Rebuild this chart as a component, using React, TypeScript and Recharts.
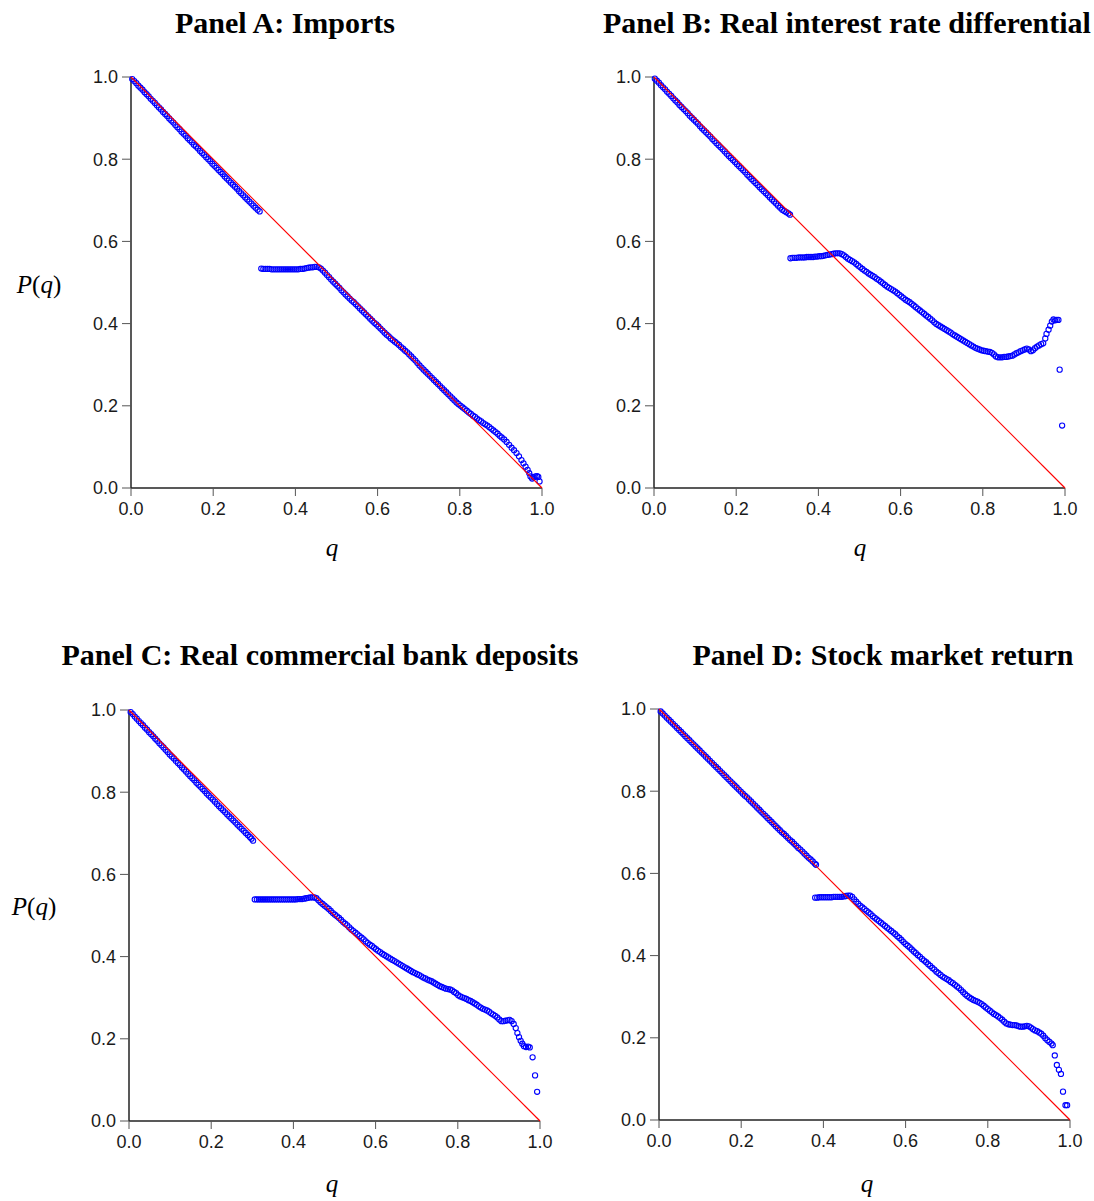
import React from "react";
import { ScatterChart, Scatter, XAxis, YAxis } from "recharts";

const axisTicks = [0, 0.2, 0.4, 0.6, 0.8, 1.0];
const diagonal = [{ q: 0, p: 1 }, { q: 1, p: 0 }];

// [q, P(q)]
const importsPoints: [number, number][] = [
  [0.003, 0.995], [0.008, 0.99], [0.013, 0.985], [0.018, 0.979], [0.023, 0.974], [0.028, 0.969], [0.033, 0.963], [0.038, 0.958],
  [0.043, 0.953], [0.048, 0.947], [0.053, 0.942], [0.058, 0.937], [0.063, 0.931], [0.068, 0.926], [0.073, 0.921], [0.078, 0.915],
  [0.083, 0.91], [0.088, 0.905], [0.093, 0.899], [0.098, 0.894], [0.103, 0.889], [0.108, 0.883], [0.113, 0.878], [0.118, 0.873],
  [0.123, 0.867], [0.128, 0.862], [0.133, 0.857], [0.138, 0.851], [0.143, 0.846], [0.148, 0.841], [0.153, 0.835], [0.158, 0.831],
  [0.163, 0.826], [0.168, 0.82], [0.173, 0.815], [0.178, 0.81], [0.183, 0.805], [0.188, 0.8], [0.193, 0.795], [0.198, 0.789],
  [0.203, 0.784], [0.208, 0.779], [0.213, 0.774], [0.218, 0.769], [0.223, 0.764], [0.228, 0.758], [0.233, 0.753], [0.238, 0.748],
  [0.243, 0.743], [0.248, 0.738], [0.253, 0.733], [0.258, 0.728], [0.263, 0.722], [0.268, 0.717], [0.273, 0.712], [0.278, 0.707],
  [0.283, 0.702], [0.288, 0.697], [0.293, 0.692], [0.298, 0.687], [0.303, 0.682], [0.308, 0.677], [0.313, 0.673],
  [0.317, 0.534], [0.322, 0.533], [0.327, 0.533], [0.332, 0.533], [0.337, 0.533], [0.342, 0.532], [0.347, 0.532], [0.352, 0.532],
  [0.357, 0.532], [0.362, 0.532], [0.367, 0.532], [0.372, 0.532], [0.377, 0.532], [0.382, 0.532], [0.387, 0.532], [0.392, 0.532],
  [0.397, 0.532], [0.402, 0.532], [0.407, 0.532], [0.412, 0.533], [0.417, 0.533], [0.422, 0.534], [0.427, 0.535], [0.432, 0.536],
  [0.437, 0.537], [0.442, 0.537], [0.447, 0.538], [0.452, 0.538], [0.457, 0.537], [0.462, 0.534], [0.467, 0.529], [0.472, 0.524],
  [0.477, 0.518], [0.482, 0.513], [0.487, 0.507], [0.492, 0.502], [0.497, 0.497], [0.502, 0.492], [0.507, 0.487], [0.512, 0.481],
  [0.517, 0.476], [0.522, 0.471], [0.527, 0.466], [0.532, 0.461], [0.537, 0.456], [0.542, 0.452], [0.547, 0.447], [0.552, 0.442],
  [0.557, 0.437], [0.562, 0.432], [0.567, 0.427], [0.572, 0.422], [0.577, 0.417], [0.582, 0.412], [0.587, 0.407], [0.592, 0.402],
  [0.597, 0.398], [0.602, 0.393], [0.607, 0.388], [0.612, 0.383], [0.617, 0.378], [0.622, 0.373], [0.627, 0.369], [0.632, 0.364],
  [0.637, 0.36], [0.642, 0.356], [0.647, 0.352], [0.652, 0.348], [0.657, 0.343], [0.662, 0.339], [0.667, 0.334], [0.672, 0.33],
  [0.677, 0.325], [0.682, 0.32], [0.687, 0.315], [0.692, 0.31], [0.697, 0.304], [0.702, 0.298], [0.707, 0.293], [0.712, 0.288],
  [0.717, 0.283], [0.722, 0.278], [0.727, 0.273], [0.732, 0.268], [0.737, 0.263], [0.742, 0.258], [0.747, 0.253], [0.752, 0.248],
  [0.757, 0.243], [0.762, 0.238], [0.767, 0.233], [0.772, 0.228], [0.777, 0.223], [0.782, 0.218], [0.787, 0.213], [0.792, 0.208],
  [0.797, 0.204], [0.802, 0.2], [0.807, 0.196], [0.812, 0.192], [0.817, 0.188], [0.822, 0.184], [0.827, 0.18], [0.832, 0.176],
  [0.837, 0.173], [0.842, 0.169], [0.847, 0.165], [0.852, 0.162], [0.857, 0.158], [0.862, 0.155], [0.867, 0.152], [0.872, 0.148],
  [0.877, 0.144], [0.882, 0.14], [0.887, 0.136], [0.892, 0.132], [0.897, 0.127], [0.902, 0.123], [0.908, 0.118], [0.914, 0.112],
  [0.92, 0.105], [0.926, 0.098], [0.932, 0.092], [0.938, 0.085], [0.944, 0.077], [0.95, 0.068], [0.955, 0.06], [0.96, 0.052],
  [0.965, 0.044], [0.969, 0.036], [0.972, 0.028], [0.976, 0.023], [0.98, 0.026], [0.984, 0.028], [0.988, 0.029], [0.991, 0.027],
  [0.994, 0.016],
];

const interestPoints: [number, number][] = [
  [0.002, 0.996], [0.007, 0.991], [0.012, 0.986], [0.017, 0.98], [0.022, 0.975], [0.027, 0.97], [0.032, 0.964], [0.037, 0.959],
  [0.042, 0.954], [0.047, 0.948], [0.052, 0.943], [0.057, 0.938], [0.062, 0.932], [0.067, 0.927], [0.072, 0.922], [0.077, 0.917],
  [0.082, 0.912], [0.087, 0.906], [0.092, 0.901], [0.097, 0.896], [0.102, 0.891], [0.107, 0.886], [0.112, 0.88], [0.117, 0.875],
  [0.122, 0.87], [0.127, 0.865], [0.132, 0.86], [0.137, 0.855], [0.142, 0.849], [0.147, 0.844], [0.152, 0.839], [0.157, 0.834],
  [0.162, 0.829], [0.167, 0.824], [0.172, 0.819], [0.177, 0.813], [0.182, 0.808], [0.187, 0.803], [0.192, 0.798], [0.197, 0.793],
  [0.202, 0.788], [0.207, 0.783], [0.212, 0.778], [0.217, 0.773], [0.222, 0.768], [0.227, 0.762], [0.232, 0.757], [0.237, 0.752],
  [0.242, 0.747], [0.247, 0.742], [0.252, 0.737], [0.257, 0.732], [0.262, 0.727], [0.267, 0.722], [0.272, 0.717], [0.277, 0.712],
  [0.282, 0.707], [0.287, 0.702], [0.292, 0.697], [0.297, 0.692], [0.302, 0.687], [0.307, 0.682], [0.312, 0.677], [0.317, 0.674],
  [0.322, 0.671], [0.327, 0.668], [0.331, 0.665],
  [0.332, 0.559], [0.337, 0.56], [0.342, 0.56], [0.347, 0.56], [0.352, 0.561], [0.357, 0.561], [0.362, 0.561], [0.367, 0.561],
  [0.372, 0.562], [0.377, 0.562], [0.382, 0.562], [0.387, 0.562], [0.392, 0.563], [0.397, 0.563], [0.402, 0.564], [0.407, 0.564],
  [0.412, 0.565], [0.417, 0.566], [0.422, 0.567], [0.427, 0.568], [0.432, 0.569], [0.437, 0.57], [0.442, 0.571], [0.447, 0.571],
  [0.452, 0.571], [0.457, 0.569], [0.462, 0.566], [0.467, 0.562], [0.472, 0.558], [0.477, 0.555], [0.482, 0.552], [0.487, 0.549],
  [0.492, 0.545], [0.497, 0.541], [0.502, 0.537], [0.507, 0.533], [0.512, 0.529], [0.517, 0.526], [0.522, 0.522], [0.527, 0.519],
  [0.532, 0.516], [0.537, 0.513], [0.542, 0.509], [0.547, 0.506], [0.552, 0.502], [0.557, 0.498], [0.562, 0.494], [0.567, 0.49],
  [0.572, 0.487], [0.577, 0.484], [0.582, 0.481], [0.587, 0.478], [0.592, 0.474], [0.597, 0.47], [0.602, 0.466], [0.607, 0.462],
  [0.612, 0.458], [0.617, 0.455], [0.622, 0.452], [0.627, 0.448], [0.632, 0.444], [0.637, 0.44], [0.642, 0.436], [0.647, 0.432],
  [0.652, 0.428], [0.657, 0.424], [0.662, 0.42], [0.667, 0.416], [0.672, 0.412], [0.677, 0.408], [0.682, 0.403], [0.687, 0.399],
  [0.692, 0.396], [0.697, 0.393], [0.702, 0.39], [0.707, 0.387], [0.712, 0.384], [0.717, 0.381], [0.722, 0.378], [0.727, 0.374],
  [0.732, 0.371], [0.737, 0.368], [0.742, 0.365], [0.747, 0.362], [0.752, 0.359], [0.757, 0.356], [0.762, 0.353], [0.767, 0.35],
  [0.772, 0.347], [0.777, 0.344], [0.782, 0.341], [0.787, 0.339], [0.792, 0.337], [0.797, 0.335], [0.802, 0.334], [0.807, 0.333],
  [0.812, 0.332], [0.817, 0.331], [0.822, 0.329], [0.827, 0.325], [0.832, 0.32], [0.837, 0.318], [0.842, 0.318], [0.847, 0.318],
  [0.852, 0.319], [0.857, 0.319], [0.862, 0.32], [0.867, 0.321], [0.872, 0.322], [0.877, 0.325], [0.882, 0.328], [0.887, 0.33],
  [0.892, 0.333], [0.897, 0.335], [0.902, 0.337], [0.907, 0.339], [0.912, 0.337], [0.917, 0.333], [0.922, 0.335], [0.927, 0.34],
  [0.932, 0.344], [0.937, 0.347], [0.942, 0.35], [0.947, 0.352], [0.952, 0.364], [0.955, 0.375], [0.96, 0.385], [0.964, 0.395],
  [0.968, 0.405], [0.972, 0.41], [0.976, 0.408], [0.98, 0.409], [0.984, 0.409], [0.987, 0.288], [0.993, 0.152],
];

const depositsPoints: [number, number][] = [
  [0.004, 0.995], [0.009, 0.99], [0.014, 0.984], [0.019, 0.979], [0.024, 0.973], [0.029, 0.968], [0.034, 0.963], [0.039, 0.957],
  [0.044, 0.952], [0.049, 0.946], [0.054, 0.941], [0.059, 0.936], [0.064, 0.93], [0.069, 0.925], [0.074, 0.919], [0.079, 0.914],
  [0.084, 0.909], [0.089, 0.903], [0.094, 0.898], [0.099, 0.892], [0.104, 0.887], [0.109, 0.882], [0.114, 0.876], [0.119, 0.871],
  [0.124, 0.866], [0.129, 0.86], [0.134, 0.855], [0.139, 0.85], [0.144, 0.844], [0.149, 0.839], [0.154, 0.834], [0.159, 0.829],
  [0.164, 0.823], [0.169, 0.818], [0.174, 0.813], [0.179, 0.808], [0.184, 0.803], [0.189, 0.797], [0.194, 0.792], [0.199, 0.787],
  [0.204, 0.782], [0.209, 0.777], [0.214, 0.771], [0.219, 0.766], [0.224, 0.761], [0.229, 0.756], [0.234, 0.751], [0.239, 0.746],
  [0.244, 0.741], [0.249, 0.736], [0.254, 0.731], [0.259, 0.726], [0.264, 0.721], [0.269, 0.716], [0.274, 0.711], [0.279, 0.706],
  [0.284, 0.701], [0.289, 0.696], [0.294, 0.691], [0.298, 0.687], [0.302, 0.682],
  [0.306, 0.539], [0.311, 0.539], [0.316, 0.539], [0.321, 0.539], [0.326, 0.539], [0.331, 0.539], [0.336, 0.539], [0.341, 0.539],
  [0.346, 0.539], [0.351, 0.539], [0.356, 0.539], [0.361, 0.539], [0.366, 0.539], [0.371, 0.539], [0.376, 0.539], [0.381, 0.539],
  [0.386, 0.539], [0.391, 0.539], [0.396, 0.539], [0.401, 0.539], [0.406, 0.539], [0.411, 0.54], [0.416, 0.54], [0.421, 0.54],
  [0.426, 0.541], [0.431, 0.542], [0.436, 0.543], [0.441, 0.544], [0.446, 0.544], [0.451, 0.544], [0.456, 0.542], [0.461, 0.537],
  [0.466, 0.532], [0.471, 0.528], [0.476, 0.524], [0.481, 0.52], [0.486, 0.516], [0.491, 0.511], [0.496, 0.506], [0.501, 0.502],
  [0.506, 0.498], [0.511, 0.494], [0.516, 0.489], [0.521, 0.484], [0.526, 0.48], [0.531, 0.476], [0.536, 0.471], [0.541, 0.466],
  [0.546, 0.462], [0.551, 0.458], [0.556, 0.454], [0.561, 0.45], [0.566, 0.446], [0.571, 0.442], [0.576, 0.437], [0.581, 0.433],
  [0.586, 0.429], [0.591, 0.426], [0.596, 0.422], [0.601, 0.418], [0.606, 0.414], [0.611, 0.411], [0.616, 0.407], [0.621, 0.404],
  [0.626, 0.401], [0.631, 0.398], [0.636, 0.395], [0.641, 0.392], [0.646, 0.389], [0.651, 0.386], [0.656, 0.383], [0.661, 0.38],
  [0.666, 0.377], [0.671, 0.374], [0.676, 0.371], [0.681, 0.368], [0.686, 0.365], [0.691, 0.362], [0.696, 0.36], [0.701, 0.357],
  [0.706, 0.355], [0.711, 0.352], [0.716, 0.349], [0.721, 0.347], [0.726, 0.344], [0.731, 0.342], [0.736, 0.34], [0.741, 0.337],
  [0.746, 0.334], [0.751, 0.331], [0.756, 0.328], [0.761, 0.326], [0.766, 0.324], [0.771, 0.322], [0.776, 0.321], [0.781, 0.32],
  [0.786, 0.318], [0.791, 0.314], [0.796, 0.311], [0.801, 0.306], [0.806, 0.303], [0.811, 0.301], [0.816, 0.299], [0.821, 0.297],
  [0.826, 0.294], [0.831, 0.292], [0.836, 0.289], [0.841, 0.286], [0.846, 0.283], [0.851, 0.279], [0.856, 0.276], [0.861, 0.273],
  [0.866, 0.271], [0.871, 0.269], [0.876, 0.266], [0.881, 0.262], [0.886, 0.259], [0.891, 0.256], [0.896, 0.252], [0.901, 0.247],
  [0.906, 0.243], [0.911, 0.243], [0.916, 0.244], [0.921, 0.245], [0.926, 0.246], [0.931, 0.243], [0.936, 0.236], [0.941, 0.226],
  [0.945, 0.214], [0.949, 0.204], [0.953, 0.195], [0.957, 0.188], [0.961, 0.182], [0.966, 0.18], [0.971, 0.181], [0.975, 0.179],
  [0.982, 0.155], [0.988, 0.111], [0.993, 0.071],
];

const stockPoints: [number, number][] = [
  [0.004, 0.994], [0.009, 0.989], [0.014, 0.984], [0.019, 0.979], [0.024, 0.974], [0.029, 0.969], [0.034, 0.964], [0.039, 0.959],
  [0.044, 0.954], [0.049, 0.949], [0.054, 0.944], [0.059, 0.939], [0.064, 0.934], [0.069, 0.929], [0.074, 0.924], [0.079, 0.919],
  [0.084, 0.914], [0.089, 0.909], [0.094, 0.904], [0.099, 0.899], [0.104, 0.894], [0.109, 0.889], [0.114, 0.884], [0.119, 0.879],
  [0.124, 0.874], [0.129, 0.869], [0.134, 0.864], [0.139, 0.859], [0.144, 0.854], [0.149, 0.849], [0.154, 0.844], [0.159, 0.839],
  [0.164, 0.834], [0.169, 0.829], [0.174, 0.824], [0.179, 0.819], [0.184, 0.814], [0.189, 0.809], [0.194, 0.804], [0.199, 0.799],
  [0.204, 0.794], [0.209, 0.789], [0.214, 0.785], [0.219, 0.78], [0.224, 0.775], [0.229, 0.77], [0.234, 0.765], [0.239, 0.76],
  [0.244, 0.755], [0.249, 0.75], [0.254, 0.745], [0.259, 0.74], [0.264, 0.735], [0.269, 0.73], [0.274, 0.725], [0.279, 0.72],
  [0.284, 0.715], [0.289, 0.71], [0.294, 0.705], [0.299, 0.7], [0.304, 0.696], [0.309, 0.691], [0.314, 0.686], [0.319, 0.681],
  [0.324, 0.677], [0.329, 0.672], [0.334, 0.667], [0.339, 0.662], [0.344, 0.658], [0.349, 0.653], [0.354, 0.648], [0.359, 0.643],
  [0.364, 0.638], [0.369, 0.634], [0.374, 0.629], [0.379, 0.624], [0.382, 0.621],
  [0.38, 0.541], [0.385, 0.541], [0.39, 0.542], [0.395, 0.542], [0.4, 0.542], [0.405, 0.542], [0.41, 0.542], [0.415, 0.542],
  [0.42, 0.542], [0.425, 0.543], [0.43, 0.543], [0.435, 0.543], [0.44, 0.543], [0.445, 0.543], [0.45, 0.544], [0.455, 0.545],
  [0.46, 0.546], [0.465, 0.546], [0.47, 0.543], [0.475, 0.537], [0.48, 0.531], [0.485, 0.526], [0.49, 0.521], [0.495, 0.517],
  [0.5, 0.513], [0.505, 0.509], [0.51, 0.505], [0.515, 0.501], [0.52, 0.496], [0.525, 0.492], [0.53, 0.488], [0.535, 0.484],
  [0.54, 0.48], [0.545, 0.476], [0.55, 0.472], [0.555, 0.468], [0.56, 0.464], [0.565, 0.46], [0.57, 0.456], [0.575, 0.452],
  [0.58, 0.447], [0.585, 0.443], [0.59, 0.438], [0.595, 0.433], [0.6, 0.428], [0.605, 0.424], [0.61, 0.42], [0.615, 0.415],
  [0.62, 0.41], [0.625, 0.406], [0.63, 0.401], [0.635, 0.397], [0.64, 0.392], [0.645, 0.388], [0.65, 0.384], [0.655, 0.379],
  [0.66, 0.375], [0.665, 0.37], [0.67, 0.366], [0.675, 0.361], [0.68, 0.357], [0.685, 0.353], [0.69, 0.349], [0.695, 0.346],
  [0.7, 0.343], [0.705, 0.34], [0.71, 0.336], [0.715, 0.333], [0.72, 0.329], [0.725, 0.325], [0.73, 0.321], [0.735, 0.316],
  [0.74, 0.311], [0.745, 0.306], [0.75, 0.302], [0.755, 0.298], [0.76, 0.295], [0.765, 0.292], [0.77, 0.29], [0.775, 0.288],
  [0.78, 0.285], [0.785, 0.282], [0.79, 0.278], [0.795, 0.274], [0.8, 0.27], [0.805, 0.266], [0.81, 0.262], [0.815, 0.258],
  [0.82, 0.255], [0.825, 0.252], [0.83, 0.248], [0.835, 0.244], [0.84, 0.239], [0.845, 0.235], [0.85, 0.233], [0.855, 0.232],
  [0.86, 0.231], [0.865, 0.231], [0.87, 0.23], [0.875, 0.228], [0.88, 0.227], [0.885, 0.227], [0.89, 0.228], [0.895, 0.229],
  [0.9, 0.228], [0.905, 0.225], [0.91, 0.221], [0.915, 0.218], [0.92, 0.216], [0.925, 0.213], [0.93, 0.21], [0.935, 0.205],
  [0.94, 0.199], [0.945, 0.194], [0.95, 0.19], [0.955, 0.186], [0.958, 0.182], [0.963, 0.157], [0.968, 0.134], [0.973, 0.122],
  [0.978, 0.112], [0.983, 0.069], [0.989, 0.036], [0.993, 0.036],
];

const PLOT = 411;
const tickFont = { fill: "#1a1a1a", fontSize: 18, fontFamily: "'Liberation Sans', Arial, sans-serif" };
const fmt = (v: number) => v.toFixed(1);

const Ring = (props: any) => (
  <circle cx={props.cx} cy={props.cy} r={2.6} fill="none" stroke="#0000ff" strokeWidth={1.1} />
);
const NoDot = () => <g />;

function Panel({ points, left, top }: { points: [number, number][]; left: number; top: number }) {
  const rows = points.map(([q, p]) => ({ q, p }));
  return (
    <div style={{ position: "absolute", left: left - 70, top: top - 20 }}>
      <ScatterChart width={70 + PLOT + 15} height={20 + PLOT + 45} margin={{ top: 20, right: 15, bottom: 0, left: 20 }}>
        <XAxis
          type="number"
          dataKey="q"
          domain={[0, 1]}
          ticks={axisTicks}
          interval={0}
          tickFormatter={fmt}
          height={45}
          tick={tickFont}
          tickSize={8}
          tickMargin={6}
          axisLine={{ stroke: "#222", strokeWidth: 1.5 }}
          tickLine={{ stroke: "#555" }}
        />
        <YAxis
          type="number"
          dataKey="p"
          domain={[0, 1]}
          ticks={axisTicks}
          interval={0}
          tickFormatter={fmt}
          width={50}
          tick={tickFont}
          tickSize={9}
          tickMargin={4}
          axisLine={{ stroke: "#222", strokeWidth: 1.5 }}
          tickLine={{ stroke: "#555" }}
        />
        <XAxis xAxisId="top" orientation="top" type="number" domain={[0, 1]} height={0} tick={false} tickLine={false} axisLine={{ stroke: "#000" }} />
        <YAxis yAxisId="right" orientation="right" type="number" domain={[0, 1]} width={0} tick={false} tickLine={false} axisLine={{ stroke: "#000" }} />
        <Scatter data={rows} shape={Ring} isAnimationActive={false} />
        <Scatter data={diagonal} shape={NoDot} line={{ stroke: "#ff0000", strokeWidth: 1.2 }} isAnimationActive={false} />
      </ScatterChart>
    </div>
  );
}

const serif = "'Liberation Serif', 'Times New Roman', serif";

export default function App() {
  return (
    <div style={{ position: "absolute", left: 0, top: 0, width: 1094, height: 1201, background: "#fff" }}>
      <Panel points={importsPoints} left={131} top={77} />
      <Panel points={interestPoints} left={654} top={77} />
      <Panel points={depositsPoints} left={129} top={710} />
      <Panel points={stockPoints} left={659} top={709} />
      <svg width={1094} height={1201} style={{ position: "absolute", left: 0, top: 0, pointerEvents: "none" }}>
        <g fontFamily={serif} fontWeight="bold" fontSize={30} fill="#000" textAnchor="middle">
          <text x={285} y={33}>Panel A: Imports</text>
          <text x={847} y={33}>Panel B: Real interest rate differential</text>
          <text x={320} y={665}>Panel C: Real commercial bank deposits</text>
          <text x={883} y={665}>Panel D: Stock market return</text>
        </g>
        <g fontFamily={serif} fontSize={25} fill="#000" textAnchor="middle">
          <text x={39} y={293}><tspan fontStyle="italic">P</tspan>(<tspan fontStyle="italic">q</tspan>)</text>
          <text x={34} y={915}><tspan fontStyle="italic">P</tspan>(<tspan fontStyle="italic">q</tspan>)</text>
          <text x={332} y={556} fontStyle="italic">q</text>
          <text x={860} y={556} fontStyle="italic">q</text>
          <text x={332} y={1192} fontStyle="italic">q</text>
          <text x={867} y={1192} fontStyle="italic">q</text>
        </g>
      </svg>
    </div>
  );
}
